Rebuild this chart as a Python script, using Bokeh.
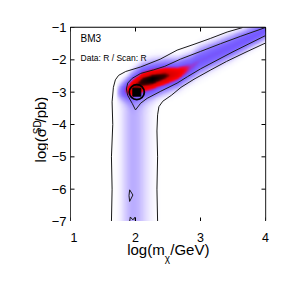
import numpy as np
from bokeh.plotting import figure
from bokeh.layouts import row, column
from bokeh.models import Range1d, LinearAxis, FixedTicker, Label
from bokeh.embed import file_html
from bokeh.resources import INLINE

# ---------------- data ----------------
x_min, x_max = 1, 4
y_min, y_max = -7, -1
x_ticks = [1, 2, 3, 4]
x_tick_labels = ["1", "2", "3", "4"]
y_ticks = [-7, -6, -5, -4, -3, -2, -1]
y_tick_labels = ["\u22127", "\u22126", "\u22125", "\u22124", "\u22123", "\u22122", "\u22121"]

# ridge of the diagonal (high sigma) branch of the posterior
ridge_x = [1.70, 1.85, 1.95, 2.10, 2.26, 2.45, 2.65, 2.85, 3.00, 3.50, 4.00]
ridge_y = [-3.00, -2.92, -2.85, -2.68, -2.60, -2.50, -2.42, -2.22, -2.02, -1.57, -1.08]
ridge_amp = [0.00, 0.50, 0.80, 0.94, 1.00, 0.92, 0.74, 0.52, 0.46, 0.45, 0.44]
ridge_w = [0.15, 0.20, 0.25, 0.28, 0.28, 0.26, 0.24, 0.23, 0.24, 0.21, 0.17]

# vertical (low sigma) branch
band_x = 1.96
band_amp = 0.13
band_w_left = 0.12
band_w_right = 0.16
band_top = -2.9

# outer contour
outer_a_x = [1.63, 1.64, 1.63, 1.65, 1.64, 1.66, 1.69, 1.74, 1.85, 2.08, 2.38, 2.64, 2.90, 3.15, 3.41, 3.65]
outer_a_y = [-7.00, -6.00, -5.00, -4.00, -3.30, -2.85, -2.62, -2.48, -2.36, -2.22, -1.98, -1.70, -1.52, -1.34, -1.14, -1.00]
outer_b_x = [2.34, 2.33, 2.34, 2.33, 2.34, 2.36, 2.42, 2.55, 2.70, 2.90, 3.15, 3.40, 3.70, 4.00]
outer_b_y = [-7.00, -6.00, -5.00, -4.20, -3.70, -3.45, -3.28, -3.10, -2.85, -2.60, -2.32, -2.05, -1.76, -1.48]

# inner contour
inner_x = [4.00, 3.62, 3.31, 3.00, 2.69, 2.45, 2.28, 2.08, 1.95, 1.88, 1.86, 1.88, 1.95, 2.00,
           2.08, 2.18, 2.38, 2.64, 2.80, 3.00, 3.50, 4.00]
inner_y = [-1.00, -1.27, -1.50, -1.74, -1.98, -2.20, -2.31, -2.42, -2.57, -2.72, -2.90, -3.10, -3.35, -3.55,
           -3.34, -3.19, -2.98, -2.72, -2.52, -2.28, -1.75, -1.25]

# small islands
island_x = [1.91, 1.96, 1.91, 1.90, 1.91]
island_y = [-6.02, -6.18, -6.38, -6.20, -6.02]
stub_x = [1.91, 1.92, 1.96, 1.99, 2.00]
stub_y = [-7.00, -6.86, -6.95, -6.87, -7.00]

# best-fit point
best_x = [2.02]
best_y = [-3.00]

# ---------------- density field ----------------
gx = np.linspace(x_min, x_max, 300)
gy = np.linspace(y_min, y_max, 300)
X, Y = np.meshgrid(gx, gy)
yc = np.interp(X, ridge_x, ridge_y)
amp = np.interp(X, ridge_x, ridge_amp)
wid = np.interp(X, ridge_x, ridge_w)
diag = amp * np.exp(-0.5 * ((Y - yc) / wid) ** 2)
bw = np.where(X < band_x, band_w_left, band_w_right)
vert = band_amp * np.exp(-0.5 * ((X - band_x) / bw) ** 2) / (1 + np.exp((Y - band_top) / 0.08))
D = np.clip(diag + vert, 0, 1)

cm_pos = [0.0, 0.02, 0.06, 0.15, 0.30, 0.45, 0.53, 0.60, 0.66, 0.84, 0.92, 1.0]
cm_r = [255, 248, 225, 175, 135, 118, 160, 240, 255, 215, 60, 0]
cm_g = [255, 246, 218, 160, 112, 90, 50, 10, 0, 0, 0, 0]
cm_b = [255, 255, 255, 255, 255, 255, 200, 60, 0, 0, 0, 0]
t = np.linspace(0, 1, 256)
palette = ["#%02x%02x%02x" % (int(np.interp(v, cm_pos, cm_r)), int(np.interp(v, cm_pos, cm_g)),
                              int(np.interp(v, cm_pos, cm_b))) for v in t]

# ---------------- geometry (pixels) ----------------
FONT = "Liberation Sans"
FRAME_W, FRAME_H = 195, 194
YLAB_W = 48          # strip holding the rotated y label
LEFT_B = 20          # room for the y tick labels
RIGHT_B = 18
TOP_B = 27
BOTTOM_Y = 10        # room below the y axis for the lowest tick label
XSTRIP_TOP = 20
XSTRIP_FRAME_H = 28

def blank(fig):
    fig.grid.visible = False
    fig.outline_line_color = None
    fig.background_fill_color = "white"
    fig.border_fill_color = "white"
    return fig

# ---------------- main figure ----------------
p = figure(frame_width=FRAME_W, frame_height=FRAME_H, x_range=Range1d(x_min, x_max),
           y_range=Range1d(y_min, y_max), title=None,
           output_backend="svg", toolbar_location=None, x_axis_location=None, y_axis_location=None,
           min_border_left=0, min_border_right=RIGHT_B, min_border_top=TOP_B, min_border_bottom=0)
p.grid.visible = False
p.outline_line_color = "black"
p.outline_line_width = 1.3
p.background_fill_color = "white"
p.border_fill_color = "white"

p.image(image=[D], x=x_min, y=y_min, dw=x_max - x_min, dh=y_max - y_min, palette=palette, level="image")

for cx, cy in [(outer_a_x, outer_a_y), (outer_b_x, outer_b_y), (inner_x, inner_y),
               (island_x, island_y), (stub_x, stub_y)]:
    p.line(cx, cy, line_color="#1a1a1a", line_width=1.0)

# inside ticks on all four frame edges (clipped to the frame)
p.scatter(x_ticks, [y_max] * len(x_ticks), marker="dash", angle=np.pi / 2, size=8, line_color="black")
p.scatter(x_ticks, [y_min] * len(x_ticks), marker="dash", angle=np.pi / 2, size=8, line_color="black")
p.scatter([x_max] * len(y_ticks), y_ticks, marker="dash", size=8, line_color="black")
p.scatter([x_min] * len(y_ticks), y_ticks, marker="dash", size=8, line_color="black")

p.scatter(best_x, best_y, marker="circle", size=15, fill_color=None, line_color="black", line_width=1.8)
p.scatter(best_x, best_y, marker="square", size=8, fill_color="black", line_color="black")

def lab(fig, x, y, text, size, angle=0.0):
    fig.add_layout(Label(x=x, y=y, text=text, text_font=FONT, text_font_size=size, angle=angle,
                         text_baseline="middle", text_align="left", text_color="black"))

lab(p, 1.154, -1.34, "BM3", "10px")
lab(p, 1.154, -1.94, "Data: R / Scan: R", "8.5px")

# ---------------- y tick labels: thin figure sharing the y range ----------------
yfig = blank(figure(frame_width=1, frame_height=FRAME_H, x_range=Range1d(0, 1), y_range=p.y_range,
                    title=None, output_backend="svg", toolbar_location=None,
                    x_axis_location=None, y_axis_location=None,
                    min_border_left=LEFT_B - 1, min_border_right=0, min_border_top=TOP_B,
                    min_border_bottom=BOTTOM_Y))
yax = LinearAxis(ticker=FixedTicker(ticks=y_ticks))
yax.major_tick_in = 0
yax.major_tick_out = 0
yax.major_tick_line_color = None
yax.minor_tick_line_color = None
yax.axis_line_color = None
yax.major_label_overrides = {k: v for k, v in zip(y_ticks, y_tick_labels)}
yax.major_label_text_font = FONT
yax.major_label_text_font_size = "13px"
yax.major_label_text_color = "black"
yax.major_label_standoff = 3
yfig.add_layout(yax, "left")

# ---------------- y label strip (pixel coords, y downwards) ----------------
col_h = TOP_B + FRAME_H + BOTTOM_Y
ylab = blank(figure(width=YLAB_W, height=col_h, x_range=Range1d(0, YLAB_W), y_range=Range1d(col_h, 0),
                    title=None, output_backend="svg", toolbar_location=None,
                    x_axis_location=None, y_axis_location=None, min_border=0))
lab(ylab, 39.5, 160.6, "log(\u03c3", "15px", np.pi / 2)
lab(ylab, 36.5, 127.0, "SD", "10px", np.pi / 2)
lab(ylab, 39.5, 113.1, "/pb)", "15px", np.pi / 2)

# ---------------- x strip: tick labels (axis above) + x label ----------------
xs = blank(figure(frame_width=FRAME_W, frame_height=XSTRIP_FRAME_H, x_range=p.x_range,
                  y_range=Range1d(XSTRIP_FRAME_H, 0), title=None,
                  output_backend="svg", toolbar_location=None, x_axis_location=None, y_axis_location=None,
                  min_border_left=0, min_border_right=RIGHT_B, min_border_top=XSTRIP_TOP,
                  min_border_bottom=0))
xax = LinearAxis(ticker=FixedTicker(ticks=x_ticks))
xax.major_tick_in = 0
xax.major_tick_out = 0
xax.major_tick_line_color = None
xax.minor_tick_line_color = None
xax.axis_line_color = None
xax.major_label_overrides = {k: v for k, v in zip(x_ticks, x_tick_labels)}
xax.major_label_text_font = FONT
xax.major_label_text_font_size = "12.5px"
xax.major_label_text_color = "black"
xax.major_label_standoff = 0
xs.add_layout(xax, "above")

# x label pieces: data x (log m), pixel y (text centre) below the strip frame top
lab(xs, 1.872, 7.5, "log(m", "15px")
lab(xs, 2.449, 17.0, "\u03c7", "10px")
lab(xs, 2.534, 7.5, "/GeV)", "15px")

layout = row(ylab, yfig, column(p, xs, spacing=0), spacing=0)
open("out.html", "w").write(file_html(layout, INLINE))
